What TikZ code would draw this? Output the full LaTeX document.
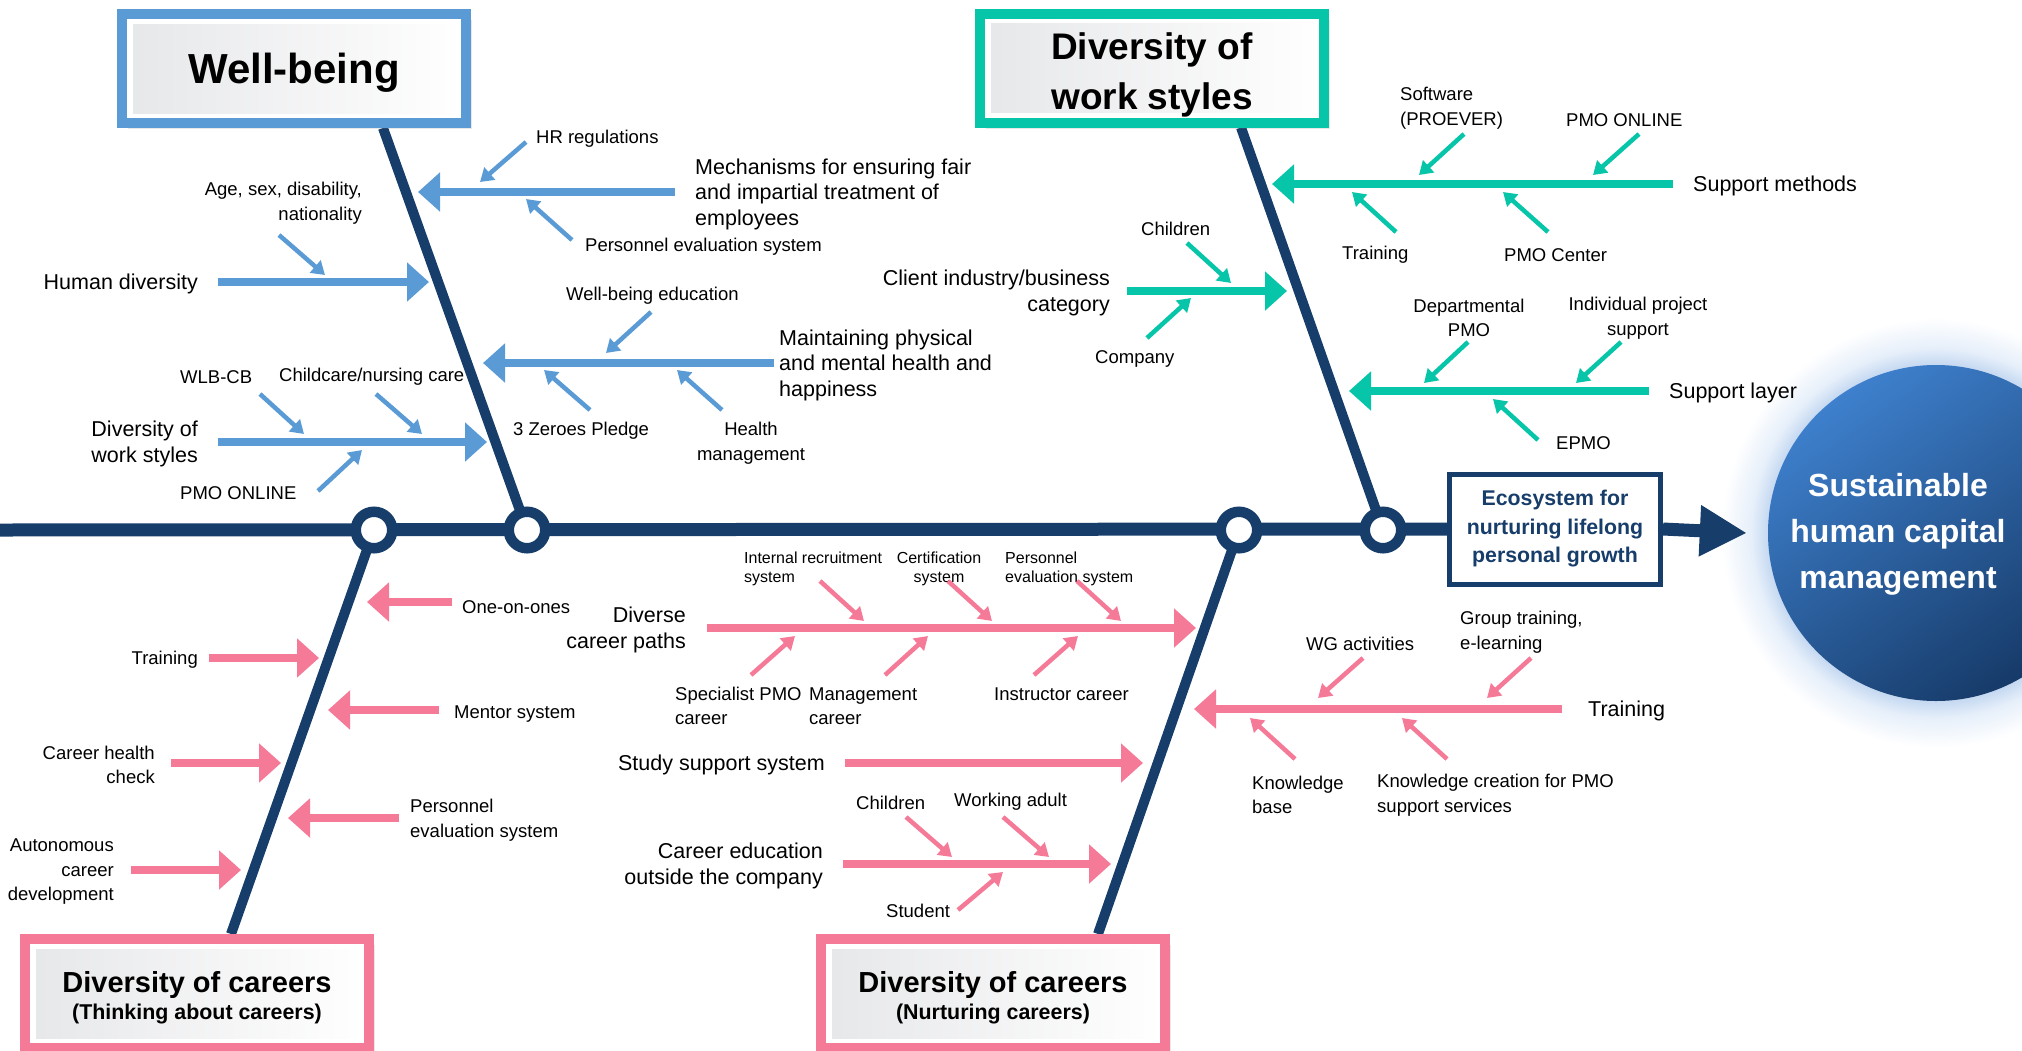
\documentclass[tikz,border=0pt]{standalone}
\usepackage{fontspec}
\setmainfont{Liberation Sans}
\usetikzlibrary{arrows.meta,shadows,backgrounds}

\definecolor{navy}{RGB}{23,61,106}
\definecolor{wbblue}{RGB}{91,155,213}
\definecolor{wsteal}{RGB}{6,197,168}
\definecolor{dcpink}{RGB}{245,122,152}
\definecolor{boxgrey}{RGB}{230,231,233}
\definecolor{haloblue}{RGB}{196,216,241}
\definecolor{halomid}{RGB}{230,239,250}
\definecolor{goallight}{RGB}{62,128,205}
\definecolor{goaldark}{RGB}{22,58,104}

\pgfdeclareradialshading{halo}{\pgfpoint{0bp}{0bp}}{color(0bp)=(haloblue);color(19.5bp)=(haloblue);color(21.5bp)=(halomid);color(25bp)=(white);color(50bp)=(white)}

\tikzset{
  smalltxt/.style={inner sep=0pt, yshift=-2pt, font=\fontsize{18.5}{24.5}\selectfont},
  maintxt/.style={inner sep=0pt, yshift=-2pt, font=\fontsize{21.5}{25.5}\selectfont},
  finetxt/.style={inner sep=0pt, yshift=-1.5pt, font=\fontsize{16}{19}\selectfont},
  titletxt/.style={inner sep=0pt, align=center},
  titlebox/.style={draw=#1, line width=10pt, fill=white, minimum width=344pt,
    minimum height=109pt, inner sep=0pt,
    drop shadow={shadow xshift=6pt, shadow yshift=-6pt, opacity=.18},
    path picture={\shade[left color=boxgrey, right color=white]
      ([xshift=11pt,yshift=10pt]path picture bounding box.south west) rectangle
      ([xshift=-11pt,yshift=-10pt]path picture bounding box.north east);}},
  joint/.style={circle, draw=navy, line width=10.5pt, fill=white, minimum size=36.5pt, inner sep=0pt},
  spine/.style={draw=navy, line width=13pt},
  bone/.style={draw=navy, line width=10pt},
  branch/.style={draw=#1, line width=8pt, -{Triangle[length=22pt,width=38pt]}},
  twig/.style={draw=#1, line width=4.5pt, -{Triangle[length=13pt,width=16pt]}},
}

\begin{document}
\begin{tikzpicture}[x=1pt, y=-1pt]
  \useasboundingbox (0,0) rectangle (2022,1050);

  % goal circle with glow
  \shade[shading=halo] (1936,533) circle (215);
  \node[circle, minimum size=336pt, inner sep=0pt, top color=goallight, bottom color=goaldark,
    shading angle=35] (goal) at (1936,533) {};
  \node[align=center, text=white, inner sep=0pt, font=\bfseries\fontsize{32}{46}\selectfont]
    (goaltxt) at (1898,534) {Sustainable\\human capital\\management};

  \node[draw=navy, line width=5pt, fill=white, minimum width=211pt, minimum height=110pt,
    inner sep=0pt, align=center, text=navy, font=\bfseries\fontsize{21.3}{28.5}\selectfont]
    (eco) at (1555,529) {Ecosystem for\\nurturing lifelong\\personal growth};

  % joints on the spine
  \node[joint] (j1) at (374,530) {};
  \node[joint] (j2) at (527,530) {};
  \node[joint] (j3) at (1239,530) {};
  \node[joint] (j4) at (1383,530) {};

  % category boxes
  \node[titlebox=wbblue, label={[titletxt, yshift=-4pt, font=\bfseries\fontsize{42}{50}\selectfont]center:Well-being}]
    (wb) at (294,68.5) {};
  \node[titlebox=wsteal, label={[titletxt, yshift=-6.5pt, font=\bfseries\fontsize{37}{50}\selectfont]center:{Diversity of\\work styles}}]
    (ws) at (1152,68) {};
  \node[titlebox=dcpink, label={[titletxt, yshift=-4pt, font=\bfseries\fontsize{21.4}{27}\selectfont]center:{{\fontsize{29}{27}\selectfont Diversity of careers}\\(Thinking about careers)}}]
    (dc1) at (197,993.5) {};
  \node[titlebox=dcpink, label={[titletxt, yshift=-4pt, font=\bfseries\fontsize{21.4}{27}\selectfont]center:{{\fontsize{29}{27}\selectfont Diversity of careers}\\(Nurturing careers)}}]
    (dc2) at (993,993.5) {};

  \begin{pgfonlayer}{background}
    \draw[spine] (0,530) -- (eco.west);
    \draw[bone] ([xshift=89pt]wb.south) -- (j2.center);
    \draw[bone] ([xshift=89pt]ws.south) -- (j4.center);
    \draw[bone] (j1.center) -- ([xshift=34pt]dc1.north);
    \draw[bone] (j3.center) -- ([xshift=105pt]dc2.north);
  \end{pgfonlayer}
  \draw[spine, -{Triangle[length=47pt,width=48pt]}] (eco.east) -- ([xshift=-21pt]goal.west);

  % Well-being
  \node[smalltxt, anchor=west] (hrreg) at (536,137) {HR regulations};
  \node[maintxt, anchor=west, align=left] (fair) at (695,192) {Mechanisms for ensuring fair\\and impartial treatment of\\employees};
  \node[smalltxt, anchor=west] (peval) at (585,245) {Personnel evaluation system};
  \node[smalltxt, anchor=east, align=right] (attrib) at (362,201) {Age, sex, disability,\\nationality};
  \node[maintxt, anchor=east] (humdiv) at (198,282) {Human diversity};
  \node[smalltxt, anchor=west] (wbedu) at (566,294) {Well-being education};
  \node[maintxt, anchor=west, align=left] (health) at (779,363) {Maintaining physical\\and mental health and\\happiness};
  \node[smalltxt, anchor=west] (wlbcb) at (180,375) {WLB-CB};
  \node[smalltxt, anchor=west] (care) at (279,375) {Childcare/nursing care};
  \node[smalltxt, anchor=west] (zeroes) at (513,429) {3 Zeroes Pledge};
  \node[smalltxt, align=center] (hmgmt) at (751,441) {Health\\management};
  \node[maintxt, anchor=east, align=right] (wsdiv) at (198,442) {Diversity of\\work styles};
  \node[smalltxt, anchor=west] (pmoonl) at (180,491) {PMO ONLINE};

  \draw[branch=wbblue] ([xshift=-20pt,yshift=2pt]fair.west) -- ++(-257,0);
  \draw[branch=wbblue] ([xshift=20pt,yshift=2pt]humdiv.east) -- ++(211,0);
  \draw[branch=wbblue] ([xshift=-5pt,yshift=2pt]health.west) -- ++(-291,0);
  \draw[branch=wbblue] ([xshift=20pt,yshift=2pt]wsdiv.east) -- ++(269,0);
  \draw[twig=wbblue] (526,142) -- (480,182);
  \draw[twig=wbblue] (572,240) -- (526,199);
  \draw[twig=wbblue] (279,235) -- (325,275);
  \draw[twig=wbblue] (651,312) -- (606,353);
  \draw[twig=wbblue] (590,410) -- (544,370);
  \draw[twig=wbblue] (722,410) -- (677,370);
  \draw[twig=wbblue] (260,394) -- (304,434);
  \draw[twig=wbblue] (376,394) -- (422,434);
  \draw[twig=wbblue] (318,491) -- (362,450);

  % Diversity of work styles
  \node[smalltxt, anchor=west, align=left] (softw) at (1400,106) {Software\\(PROEVER)};
  \node[smalltxt, anchor=west] (pmoonl2) at (1566,118) {PMO ONLINE};
  \node[maintxt, anchor=west] (suppm) at (1693,184) {Support methods};
  \node[smalltxt, anchor=west] (train1) at (1342,253) {Training};
  \node[smalltxt, anchor=west] (pmoctr) at (1504,253) {PMO Center};
  \node[smalltxt, anchor=west] (child1) at (1141,227) {Children};
  \node[maintxt, anchor=east, align=right] (client) at (1110,291) {Client industry/business\\category};
  \node[smalltxt, anchor=west] (company) at (1095,357) {Company};
  \node[smalltxt, align=center] (deptpmo) at (1469,316) {Departmental\\PMO};
  \node[smalltxt, align=center] (indiv) at (1638,316) {Individual project\\support};
  \node[maintxt, anchor=west] (suppl) at (1669,391) {Support layer};
  \node[smalltxt, anchor=west] (epmo) at (1556,441) {EPMO};

  \draw[branch=wsteal] ([xshift=-20pt,yshift=2pt]suppm.west) -- ++(-401,0);
  \draw[branch=wsteal] ([xshift=17pt,yshift=2pt]client.east) -- ++(160,0);
  \draw[branch=wsteal] ([xshift=-20pt,yshift=2pt]suppl.west) -- ++(-300,0);
  \draw[twig=wsteal] (1464,134) -- (1419,175);
  \draw[twig=wsteal] (1639,134) -- (1593,175);
  \draw[twig=wsteal] (1396,232) -- (1352,192);
  \draw[twig=wsteal] (1548,232) -- (1503,192);
  \draw[twig=wsteal] (1187,243) -- (1231,283);
  \draw[twig=wsteal] (1147,338) -- (1191,298);
  \draw[twig=wsteal] (1468,342) -- (1424,383);
  \draw[twig=wsteal] (1621,342) -- (1576,383);
  \draw[twig=wsteal] (1538,440) -- (1493,399);

  % Diversity of careers (thinking)
  \node[smalltxt, anchor=west] (one) at (462,605) {One-on-ones};
  \node[smalltxt, anchor=east] (train2) at (198,658) {Training};
  \node[smalltxt, anchor=west] (mentor) at (454,712) {Mentor system};
  \node[smalltxt, anchor=east, align=right] (chk) at (155,763) {Career health\\check};
  \node[smalltxt, anchor=west, align=left] (peval2) at (410,818) {Personnel\\evaluation system};
  \node[smalltxt, anchor=east, align=right] (auto) at (114,870) {Autonomous\\career\\development};

  \draw[branch=dcpink] ([xshift=-10pt,yshift=5pt]one.west) -- ++(-85,0);
  \draw[branch=dcpink] ([xshift=11pt,yshift=2pt]train2.east) -- ++(110,0);
  \draw[branch=dcpink] ([xshift=-15pt,yshift=4pt]mentor.west) -- ++(-111,0);
  \draw[branch=dcpink] ([xshift=16pt,yshift=2pt]chk.east) -- ++(110,0);
  \draw[branch=dcpink] ([xshift=-11pt,yshift=2pt]peval2.west) -- ++(-111,0);
  \draw[branch=dcpink] ([xshift=17pt,yshift=2pt]auto.east) -- ++(110,0);

  % Diversity of careers (nurturing)
  \node[finetxt, anchor=west, align=left] (intrec) at (744,567) {Internal recruitment\\system};
  \node[finetxt, align=center] (cert) at (939,567) {Certification\\system};
  \node[finetxt, anchor=west, align=left] (peval3) at (1005,567) {Personnel\\evaluation system};
  \node[maintxt, anchor=east, align=right] (paths) at (686,628) {Diverse\\career paths};
  \node[smalltxt, anchor=west, align=left] (spec) at (675,704) {Specialist PMO\\career};
  \node[smalltxt, anchor=west, align=left] (mgmt) at (809,704) {Management\\career};
  \node[smalltxt, anchor=west] (instr) at (994,692) {Instructor career};
  \node[maintxt, anchor=east] (study) at (825,763) {Study support system};
  \node[smalltxt, anchor=west] (child2) at (856,801) {Children};
  \node[smalltxt, anchor=west] (adult) at (954,800) {Working adult};
  \node[maintxt, anchor=east, align=right] (outside) at (823,864) {Career education\\outside the company};
  \node[smalltxt, anchor=west] (student) at (886,909) {Student};
  \node[smalltxt, anchor=west] (wg) at (1306,642) {WG activities};
  \node[smalltxt, anchor=west, align=left] (group) at (1460,630) {Group training,\\e-learning};
  \node[maintxt, anchor=west] (train3) at (1588,709) {Training};
  \node[smalltxt, anchor=west, align=left] (kbase) at (1252,793) {Knowledge\\base};
  \node[smalltxt, anchor=west, align=left] (kcreate) at (1377,793) {Knowledge creation for PMO\\support services};

  \draw[branch=dcpink] ([xshift=21pt,yshift=2pt]paths.east) -- ++(489,0);
  \draw[branch=dcpink] ([xshift=20pt,yshift=2pt]study.east) -- ++(298,0);
  \draw[branch=dcpink] ([xshift=20pt,yshift=2pt]outside.east) -- ++(268,0);
  \draw[branch=dcpink] ([xshift=-26pt,yshift=2pt]train3.west) -- ++(-368,0);
  \draw[twig=dcpink] (820,581) -- (864,621);
  \draw[twig=dcpink] (948,581) -- (992,621);
  \draw[twig=dcpink] (1077,581) -- (1121,621);
  \draw[twig=dcpink] (751,675) -- (795,636);
  \draw[twig=dcpink] (885,675) -- (928,636);
  \draw[twig=dcpink] (1034,675) -- (1078,636);
  \draw[twig=dcpink] (906,817) -- (952,857);
  \draw[twig=dcpink] (1003,817) -- (1049,857);
  \draw[twig=dcpink] (958,910) -- (1003,872);
  \draw[twig=dcpink] (1363,658) -- (1318,698);
  \draw[twig=dcpink] (1531,658) -- (1487,698);
  \draw[twig=dcpink] (1295,759) -- (1250,718);
  \draw[twig=dcpink] (1447,759) -- (1402,718);
\end{tikzpicture}
\end{document}
